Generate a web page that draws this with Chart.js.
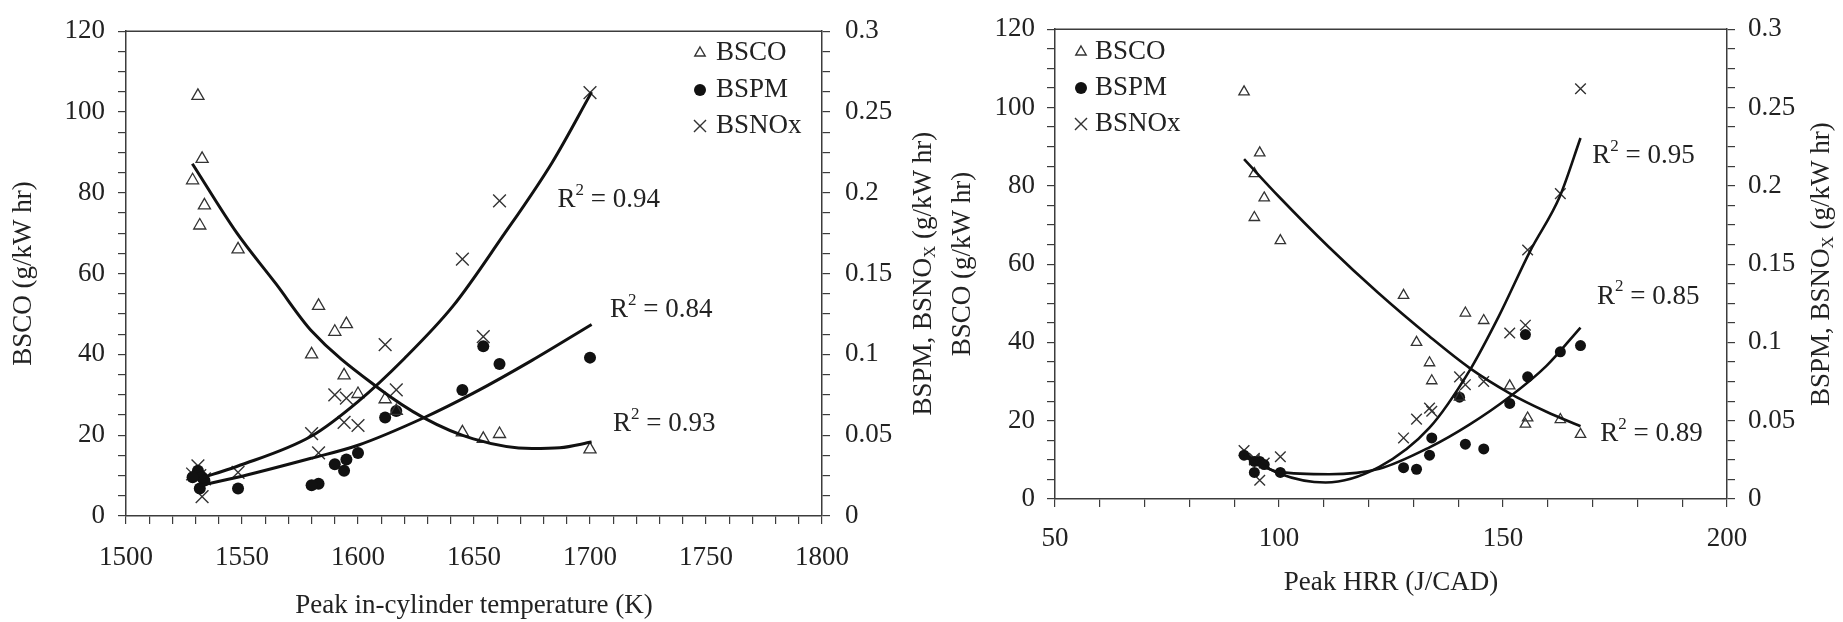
<!DOCTYPE html>
<html lang="en">
<head>
    <meta charset="UTF-8">
    <title>BSCO, BSPM and BSNOx vs peak temperature and peak HRR</title>
    <style>
        body {
            margin: 0;
            padding: 0;
            background: #fff;
        }

        #wrap {
            position: relative;
            width: 1843px;
            height: 622px;
        }

        canvas {
            position: absolute;
            top: 0;
        }
    </style>
</head>
<body>
    <div id="wrap">
        <canvas id="tempChart" width="940" height="622" style="left:0"></canvas>
        <canvas id="hrrChart" width="903" height="622" style="left:940px"></canvas>
    </div>

    <script src="https://cdn.jsdelivr.net/npm/chart.js"></script>
    <script>
        // one entry per test point, same order in every array
        const peakTemp = [1531.0, 1532.8, 1528.7, 1533.8, 1531.8, 1548.3, 1583.0, 1595.0, 1590.0, 1580.0, 1594.0, 1600.0, 1611.7, 1616.5, 1645.0, 1654.0, 1661.0, 1700.0];
        const peakHrr  = [92.2, 95.7, 94.5, 96.7, 94.5, 100.3, 127.8, 141.6, 145.7, 130.7, 133.6, 134.1, 151.5, 140.3, 155.5, 155.0, 162.8, 167.3];
        const bsco     = [104.0, 88.4, 83.1, 76.9, 71.9, 66.0, 52.0, 47.5, 45.6, 40.0, 34.8, 30.2, 28.9, 26.0, 20.7, 19.1, 20.3, 16.5];
        const bspm     = [0.028, 0.024, 0.024, 0.022, 0.017, 0.017, 0.020, 0.035, 0.032, 0.019, 0.028, 0.039, 0.061, 0.065, 0.078, 0.105, 0.094, 0.098];
        const bsnox    = [0.031, 0.012, 0.026, 0.023, 0.025, 0.027, 0.039, 0.073, 0.075, 0.051, 0.058, 0.056, 0.106, 0.078, 0.159, 0.111, 0.195, 0.262];

        // trend lines (left chart: vs peak temperature)
        const tempCoFitX  = [1528.6, 1547.6, 1564.6, 1580, 1608, 1628.4, 1649.7, 1675, 1687, 1700.7];
        const tempCoFitY  = [87.2, 70.2, 57.5, 45.8, 32.0, 24.3, 19.1, 16.7, 16.9, 18.3];
        const tempPmFitX  = [1531.5, 1547.6, 1580, 1600, 1628.4, 1649.7, 1675, 1700.7];
        const tempPmFitY  = [0.0188, 0.0238, 0.0358, 0.0438, 0.0608, 0.0760, 0.0963, 0.1185];
        const tempNoxFitX = [1532, 1548, 1580, 1600, 1620, 1641, 1661.5, 1683.7, 1700.7];
        const tempNoxFitY = [0.0233, 0.0308, 0.0495, 0.0708, 0.0975, 0.1300, 0.1713, 0.2188, 0.2623];

        // trend lines vs peak HRR (right chart)
        const hrrCoFitX  = [92.2, 100, 111, 122, 133.6, 142.5, 151.5, 159.7, 167.3];
        const hrrCoFitY  = [86.8, 77.2, 64.5, 52.8, 41.5, 33.5, 27.0, 22.3, 18.6];
        const hrrPmFitX  = [92.2, 100, 111.2, 122.4, 133.6, 142.5, 151.5, 159.7, 167.3];
        const hrrPmFitY  = [0.0270, 0.0173, 0.0158, 0.0193, 0.0330, 0.0475, 0.0653, 0.0850, 0.1095];
        const hrrNoxFitX = [92.2, 100, 110.4, 122.4, 133.6, 142.5, 149, 156, 162.7, 167.3];
        const hrrNoxFitY = [0.0288, 0.0163, 0.0105, 0.0205, 0.0455, 0.0818, 0.1163, 0.1580, 0.1933, 0.2305];

        const SERIF = "'Liberation Serif', 'Times New Roman', serif";
        const FS = 27;
        const INK = '#222';
        const AXIS = '#3c3c3c';

        // draw text made of plain / superscript / subscript parts
        function drawRich(ctx, parts, x, y, rot, align) {
            ctx.save();
            ctx.translate(x, y);
            ctx.rotate(rot);
            ctx.textBaseline = 'middle';
            ctx.textAlign = 'left';
            ctx.fillStyle = INK;
            let total = 0;
            parts.forEach(p => {
                p.size = (p.sup || p.sub) ? Math.round(FS * 0.62) : FS;
                ctx.font = p.size + 'px ' + SERIF;
                p.w = ctx.measureText(p.t).width;
                total += p.w;
            });
            let cx = align === 'center' ? -total / 2 : 0;
            parts.forEach(p => {
                ctx.font = p.size + 'px ' + SERIF;
                const dy = p.sup ? -FS * 0.36 : (p.sub ? FS * 0.24 : 0);
                ctx.fillText(p.t, cx, dy);
                cx += p.w;
            });
            ctx.restore();
        }

        function drawMarker(ctx, style, x, y, r) {
            ctx.beginPath();
            if (style === 'triangle') {
                for (let k = 0; k < 3; k++) {
                    const a = k * 2 * Math.PI / 3;
                    const px = x + Math.sin(a) * r, py = y - Math.cos(a) * r;
                    if (k) ctx.lineTo(px, py); else ctx.moveTo(px, py);
                }
                ctx.closePath();
                ctx.stroke();
            } else if (style === 'circle') {
                ctx.arc(x, y, r, 0, Math.PI * 2);
                ctx.fill();
            } else {
                const d = r * Math.SQRT1_2;
                ctx.moveTo(x - d, y - d); ctx.lineTo(x + d, y + d);
                ctx.moveTo(x + d, y - d); ctx.lineTo(x - d, y + d);
                ctx.stroke();
            }
        }

        // frame, x tick labels, axis titles, legend and R² labels
        function makeDecor(p) {
            return {
                id: 'decor',
                afterDatasetsDraw(chart) {
                    const ctx = chart.ctx;
                    const a = chart.chartArea;
                    const off = p.offset;
                    const xs = chart.scales.x;
                    ctx.save();
                    ctx.strokeStyle = AXIS;
                    ctx.lineWidth = 1.5;
                    ctx.beginPath();
                    ctx.moveTo(a.left, a.top);
                    ctx.lineTo(a.right, a.top);
                    ctx.stroke();

                    // labels for the major x ticks
                    ctx.font = FS + 'px ' + SERIF;
                    ctx.fillStyle = INK;
                    ctx.textAlign = 'center';
                    ctx.textBaseline = 'middle';
                    xs.ticks.forEach(t => {
                        if (t.value % 50 === 0) {
                            ctx.fillText(String(t.value), xs.getPixelForValue(t.value), p.xLabelY);
                        }
                    });

                    const midY = (a.top + a.bottom) / 2;
                    drawRich(ctx, [{ t: p.xTitle }], (a.left + a.right) / 2, p.xTitleY, 0, 'center');
                    drawRich(ctx, [{ t: 'BSCO (g/kW hr)' }], p.yTitleX - off, midY, -Math.PI / 2, 'center');
                    drawRich(ctx, [{ t: 'BSPM, BSNO' }, { t: 'X', sub: true }, { t: ' (g/kW hr)' }],
                        p.y2TitleX - off, midY, -Math.PI / 2, 'center');

                    // R² labels sit next to the curve ends
                    p.r2.forEach(f => {
                        const x = xs.getPixelForValue(f.x);
                        const y = chart.scales.y.getPixelForValue(f.y);
                        drawRich(ctx, [{ t: 'R' }, { t: '2', sup: true }, { t: ' = ' + f.v }], x, y, 0, 'left');
                    });

                    // legend
                    const items = [['triangle', 'BSCO'], ['circle', 'BSPM'], ['crossRot', 'BSNOx']];
                    items.forEach((it, i) => {
                        const y = p.legend.y[i];
                        ctx.strokeStyle = '#333';
                        ctx.fillStyle = '#111';
                        ctx.lineWidth = 1.4;
                        drawMarker(ctx, it[0], p.legend.sx - off, y, p.legend.r[i]);
                        drawRich(ctx, [{ t: it[1] }], p.legend.tx - off, y, 0, 'left');
                    });
                    ctx.restore();
                }
            };
        }

        function axisBase() {
            return {
                type: 'linear',
                grid: { drawOnChartArea: false, drawTicks: true, tickLength: 8, color: AXIS, lineWidth: 1.2 },
                border: { display: true, color: AXIS, width: 1.5 },
            };
        }

        function tickBase(step, pad, fmt) {
            return {
                stepSize: step,
                maxTicksLimit: 1000,
                autoSkip: false,
                maxRotation: 0,
                minRotation: 0,
                padding: pad,
                color: INK,
                font: { family: SERIF, size: FS },
                callback: fmt,
            };
        }

        function makeChart(id, p) {
            const xy = (xs, ys) => xs.map((x, i) => ({ x: x, y: ys[i] }));
            const fitLine = (xs, ys, axis) => ({
                data: xy(xs, ys),
                yAxisID: axis,
                showLine: true,
                pointRadius: 0,
                borderColor: '#111',
                borderWidth: p.lineWidth,
                cubicInterpolationMode: 'monotone',
                fill: false,
            });

            return new Chart(document.getElementById(id), {
                type: 'scatter',
                data: {
                    datasets: [
                        fitLine(p.coFit[0], p.coFit[1], 'y'),
                        fitLine(p.pmFit[0], p.pmFit[1], 'y2'),
                        fitLine(p.noxFit[0], p.noxFit[1], 'y2'),
                        {
                            data: xy(p.xVals, bsco), yAxisID: 'y',
                            pointStyle: 'triangle', pointRadius: p.triR,
                            pointBorderColor: '#333', pointBorderWidth: 1.3,
                            pointBackgroundColor: 'rgba(0,0,0,0)',
                        },
                        {
                            data: xy(p.xVals, bspm), yAxisID: 'y2',
                            pointStyle: 'circle', pointRadius: p.dotR,
                            pointBorderColor: '#111', pointBorderWidth: 0,
                            pointBackgroundColor: '#111',
                        },
                        {
                            data: xy(p.xVals, bsnox), yAxisID: 'y2',
                            pointStyle: 'crossRot', pointRadius: p.crossR,
                            pointBorderColor: '#333', pointBorderWidth: 1.4,
                        },
                    ],
                },
                options: {
                    responsive: false,
                    animation: false,
                    events: [],
                    layout: { padding: { top: p.area.top, left: 0, right: 0, bottom: 0 } },
                    plugins: { legend: { display: false }, tooltip: { enabled: false } },
                    scales: {
                        x: Object.assign(axisBase(), {
                            position: 'bottom', min: p.xMin, max: p.xMax,
                            ticks: tickBase(10, 4, () => ''),
                            afterFit: s => { s.height = p.area.bottom; },
                        }),
                        y: Object.assign(axisBase(), {
                            position: 'left', min: 0, max: 120,
                            ticks: tickBase(5, p.yPad, v => v % 20 === 0 ? String(v) : ''),
                            afterFit: s => { s.width = p.area.left; },
                        }),
                        y2: Object.assign(axisBase(), {
                            position: 'right', min: 0, max: 0.3,
                            ticks: tickBase(0.0125, p.y2Pad, v =>
                                Math.abs(v * 20 - Math.round(v * 20)) < 1e-6 ? String(+v.toFixed(2)) : ''),
                            afterFit: s => { s.width = p.area.right; },
                        }),
                    },
                },
                plugins: [makeDecor(p)],
            });
        }

        makeChart('tempChart', {
            offset: 0,
            xVals: peakTemp, xMin: 1500, xMax: 1800,
            coFit: [tempCoFitX, tempCoFitY],
            pmFit: [tempPmFitX, tempPmFitY],
            noxFit: [tempNoxFitX, tempNoxFitY],
            area: { left: 126, right: 118, top: 22, bottom: 106 },
            xLabelY: 558, yPad: 13, y2Pad: 15,
            lineWidth: 3, triR: 7, dotR: 6, crossR: 9,
            xTitle: 'Peak in-cylinder temperature (K)', xTitleY: 606,
            yTitleX: 24, y2TitleX: 924,
            r2: [
                { x: 1686, y: 78.2, v: '0.94' },
                { x: 1708.6, y: 51.0, v: '0.84' },
                { x: 1709.9, y: 22.8, v: '0.93' },
            ],
            legend: { sx: 700, tx: 716, y: [53, 90, 126], r: [6, 6, 8.5] },
        });

        makeChart('hrrChart', {
            offset: 940,
            xVals: peakHrr, xMin: 50, xMax: 200,
            coFit: [hrrCoFitX, hrrCoFitY],
            pmFit: [hrrPmFitX, hrrPmFitY],
            noxFit: [hrrNoxFitX, hrrNoxFitY],
            area: { left: 115, right: 116, top: 19, bottom: 123 },
            xLabelY: 539, yPad: 12, y2Pad: 13,
            lineWidth: 2.6, triR: 6, dotR: 5.5, crossR: 7.5,
            xTitle: 'Peak HRR (J/CAD)', xTitleY: 583,
            yTitleX: 963, y2TitleX: 1822,
            r2: [
                { x: 169.9, y: 87.6, v: '0.95' },
                { x: 171.0, y: 51.7, v: '0.85' },
                { x: 171.7, y: 16.6, v: '0.89' },
            ],
            legend: { sx: 1081, tx: 1095, y: [52, 88, 124], r: [6, 6, 8.5] },
        });
    </script>
</body>
</html>
